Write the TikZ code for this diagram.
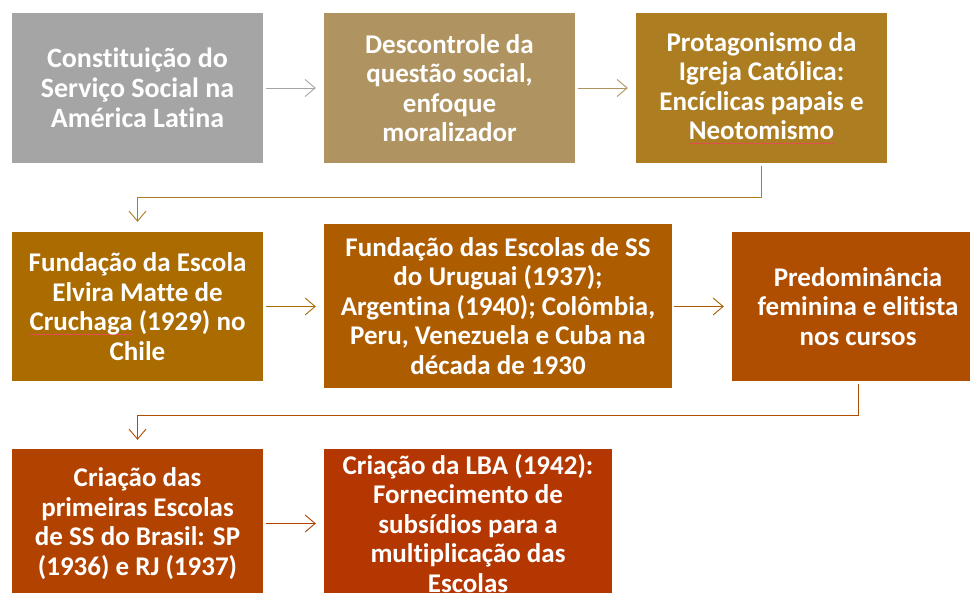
\documentclass[tikz,border=0pt]{standalone}
\usepackage{fontspec}
\setmainfont{Carlito}[Ligatures=NoCommon]
\usetikzlibrary{arrows.meta}
\definecolor{c1}{HTML}{A5A5A5}
\definecolor{c2}{HTML}{AF9461}
\definecolor{c3}{HTML}{AD7D21}
\definecolor{c4}{HTML}{AA6B00}
\definecolor{c5}{HTML}{AD5D00}
\definecolor{c6}{HTML}{AF4D00}
\definecolor{c7}{HTML}{B24200}
\definecolor{c8}{HTML}{B43600}
\definecolor{spellred}{HTML}{E05050}
\newcommand\spellmark[1]{\setbox0\hbox{#1}\rlap{\color{spellred}\rule[-3.5pt]{\wd0}{0.6pt}}\box0\relax}
\begin{document}
\begin{tikzpicture}[x=1pt,y=-1pt,
  box/.style={draw=none,inner sep=0pt,text=white,align=center,
    font=\bfseries\fontsize{27}{29.5}\selectfont},
  arr/.style={draw=#1,line width=0.9pt,-{Straight Barb[length=10pt,width=17pt,line width=0.9pt]}}]
\useasboundingbox (0,0) rectangle (970,593);
% row 1
\node[box,fill=c1,minimum width=251,minimum height=150,font=\bfseries\fontsize{28}{30}\selectfont] (b1) at (137.5,88) {Constituição do\\Serviço Social na\\América Latina};
\node[box,fill=c2,minimum width=251,minimum height=150] (b2) at (449.5,88) {Descontrole da\\questão social,\\enfoque\\moralizador};
\node[box,fill=c3,minimum width=251,minimum height=150] (b3) at (761.5,88) {Protagonismo da\\Igreja Católica:\\Encíclicas papais e\\\spellmark{Neotomismo}};
% row 2
\node[box,fill=c4,minimum width=251,minimum height=149] (b4) at (137.5,306.5) {Fundação da Escola\\Elvira Matte de\\\spellmark{Cruchaga} (1929) no\\Chile};
\node[box,fill=c5,minimum width=348,minimum height=164] (b5) at (498,306) {Fundação das Escolas de SS\\do Uruguai (1937);\\Argentina (1940); Colômbia,\\Peru, Venezuela e Cuba na\\década de 1930};
\node[box,fill=c6,minimum width=252,minimum height=149] (b6) at (858,306.5) {Predominância\\feminina e elitista\\nos cursos};
% row 3
\node[box,fill=c7,minimum width=251,minimum height=149] (b7) at (137.5,523.5) {Criação das\\primeiras Escolas\\de SS do Brasil: SP\\(1936) e RJ (1937)};
\node[box,fill=c8,minimum width=288,minimum height=149] (b8) at (468,523.5) {Criação da LBA (1942):\\Fornecimento de\\subsídios para a\\multiplicação das\\Escolas};
% connectors
\draw[arr=c1,shorten <=3pt,shorten >=8pt] (b1) -- (b2);
\draw[arr=c2,shorten <=3pt,shorten >=8pt] (b2) -- (b3);
\draw[arr=c3,shorten <=3pt,shorten >=10pt] (b3.south) -- ++(0,34) -| (b4.north);
\draw[arr=c4,shorten <=3pt,shorten >=8pt] (b4) -- (b5.west |- b4);
\draw[arr=c5,shorten <=2pt,shorten >=8pt] (b5.east |- b6) -- (b6);
\draw[arr=c6,shorten <=3pt,shorten >=9pt] (b6.south) -- ++(0,34) -| (b7.north);
\draw[arr=c7,shorten <=3pt,shorten >=8pt] (b7) -- (b8.west |- b7);
\end{tikzpicture}
\end{document}
